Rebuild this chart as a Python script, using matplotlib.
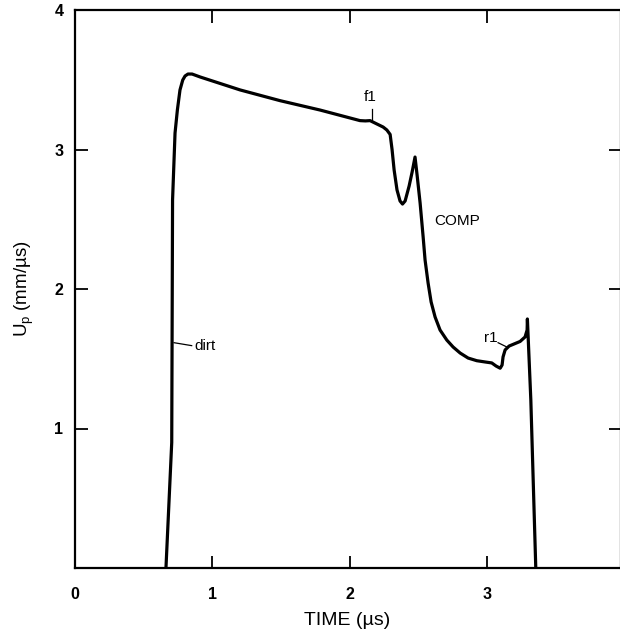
import matplotlib
matplotlib.use('Agg')
import matplotlib.pyplot as plt

plt.rcParams['font.family'] = ['Liberation Sans', 'DejaVu Sans']
plt.rcParams['mathtext.fontset'] = 'custom'
plt.rcParams['mathtext.rm'] = 'Liberation Sans'
plt.rcParams['mathtext.it'] = 'Liberation Sans'

# particle velocity trace
time_us = [0.665, 0.707, 0.713, 0.731, 0.748, 0.767, 0.787, 0.804, 0.825, 0.855,
           0.913, 1.204, 1.495, 1.785, 2.076, 2.115, 2.149, 2.244, 2.271,
           2.295, 2.309, 2.324, 2.345, 2.367, 2.385, 2.404, 2.433, 2.455,
           2.476, 2.491, 2.513, 2.535, 2.549, 2.571, 2.593, 2.622, 2.658,
           2.707, 2.753, 2.804, 2.862, 2.925, 2.985, 3.034, 3.065, 3.095,
           3.109, 3.116, 3.131, 3.160, 3.240, 3.276, 3.291, 3.293, 3.318, 3.354]
up = [0.0, 0.900, 2.638, 3.118, 3.283, 3.427, 3.498, 3.527, 3.541, 3.541,
      3.520, 3.427, 3.350, 3.283, 3.207, 3.205, 3.207, 3.161, 3.140,
      3.108, 3.000, 2.853, 2.710, 2.631, 2.609, 2.631, 2.738, 2.839,
      2.946, 2.817, 2.616, 2.373, 2.208, 2.043, 1.907, 1.799, 1.706,
      1.634, 1.584, 1.541, 1.505, 1.486, 1.477, 1.470, 1.448, 1.432,
      1.455, 1.513, 1.563, 1.591, 1.624, 1.656, 1.706, 1.785, 1.204, 0.0]

# annotations: text, text position, pointer start, pointer end
notes = [
    ('f1', (2.149, 3.376), (2.164, 3.290), (2.164, 3.211), 'center'),
    ('r1', (3.027, 1.649), (3.080, 1.615), (3.148, 1.582), 'center'),
    ('dirt', (0.869, 1.591), (0.852, 1.594), (0.724, 1.615), 'left'),
]
comp_label = ('COMP', (2.615, 2.487))

x_ticks = [0, 1, 2, 3]
y_ticks = [1, 2, 3, 4]

fig = plt.figure(figsize=(6.2, 6.34), dpi=100)
ax = fig.add_axes([74.5 / 620, 66 / 634, 546 / 620, 558 / 634])

ax.plot(time_us, up, color='black', lw=2.3, solid_joinstyle='round')

ax.set_xlim(0, 3.97)
ax.set_ylim(0, 4)

for s in ax.spines.values():
    s.set_linewidth(1.6)

ax.set_xticks(x_ticks)
ax.set_yticks(y_ticks)
ax.tick_params(direction='in', length=9, width=1.3, top=True, right=True,
               labelsize=11.5)
ax.tick_params(axis='x', pad=14)
ax.tick_params(axis='y', pad=8)
for lab in ax.get_xticklabels() + ax.get_yticklabels():
    lab.set_fontweight('bold')

ax.set_xlabel('TIME (µs)', fontsize=14)
ax.xaxis.set_label_coords(0.5, -0.078)
ax.set_ylabel('U$_\\mathrm{p}$ (mm/µs)', fontsize=13.5)
ax.yaxis.set_label_coords(-0.07, 0.5)

for txt, pos, p0, p1, ha in notes:
    ax.text(pos[0], pos[1], txt, fontsize=11, ha=ha, va='center')
    ax.plot([p0[0], p1[0]], [p0[1], p1[1]], color='black', lw=0.9)
ax.text(comp_label[1][0], comp_label[1][1], comp_label[0], fontsize=11,
        ha='left', va='center')

fig.savefig('out.png', dpi=100)
